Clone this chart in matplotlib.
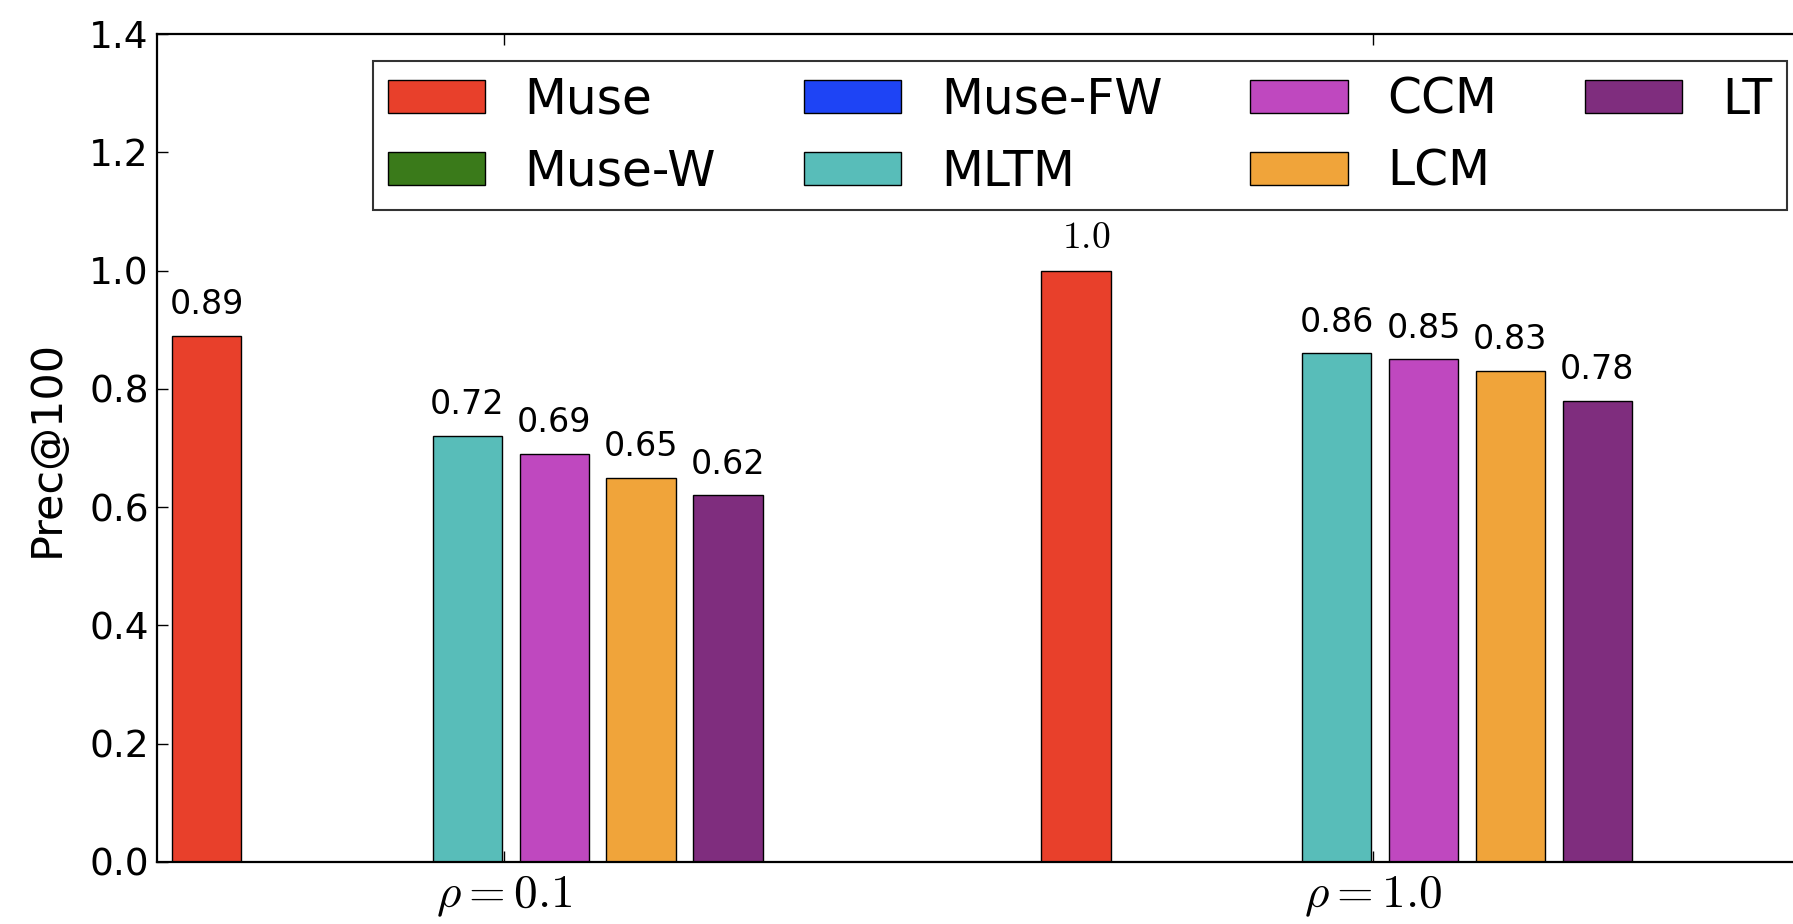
# -*- coding: utf-8 -*-

import numpy as np
import matplotlib
matplotlib.use('Agg')
import matplotlib.pyplot as plt

plt.rcParams['mathtext.fontset'] = 'cm'
plt.rcParams['font.family'] = 'DejaVu Sans'

methods = ['Muse', 'Muse-W', 'Muse-FW', 'MLTM', 'CCM', 'LCM', 'LT']
colors = ['#E8402B', '#3A7A1A', '#1E44F5', '#58BDB9', '#BF48BF', '#F0A43A', '#7F2D7E']
groups = [r'$\rho=0.1$', r'$\rho=1.0$']

muse = [0.89, 1.0]
muse_w = [0.0, 0.0]      # not shown in the chart
muse_fw = [0.0, 0.0]     # not shown in the chart
mltm = [0.72, 0.86]
ccm = [0.69, 0.85]
lcm = [0.65, 0.83]
lt = [0.62, 0.78]

values = [muse, muse_w, muse_fw, mltm, ccm, lcm, lt]
shown = [True, False, False, True, True, True, True]

ind = np.arange(len(groups))
step = 0.1
width = 0.08

fig = plt.figure(figsize=(17.93, 9.24), dpi=100)
ax = fig.add_axes([157 / 1793, 62 / 924, 1654 / 1793, 828 / 924])

handles = []
for i, (name, vals, c) in enumerate(zip(methods, values, colors)):
    xs = ind + i * step
    b = ax.bar(xs, vals, width, align='edge', color=c, edgecolor='black',
               linewidth=1.0, label=name)
    handles.append(b)
    if shown[i]:
        for x, v in zip(xs, vals):
            if v >= 1.0:
                ax.text(x + width * 0.65, v + 0.025, r'$%s$' % v, ha='center',
                        va='bottom', fontsize=27)
            else:
                ax.text(x + width / 2, v + 0.025, str(v), ha='center',
                        va='bottom', fontsize=24)

ax.set_xlim(-0.0171, -0.0171 + 1.903)
ax.set_ylim(0, 1.4)
ax.set_yticks(np.arange(0, 1.41, 0.2))
ax.set_yticklabels(['%.1f' % t for t in np.arange(0, 1.41, 0.2)])
ax.set_xticks(ind + 0.382)
ax.set_xticklabels(groups, fontsize=34)
ax.tick_params(axis='y', labelsize=27, pad=6)
ax.tick_params(axis='x', pad=8)
ax.tick_params(direction='in', top=True, right=True, length=8, width=1)
ax.set_ylabel('Prec@100', fontsize=31, labelpad=15)

for s in ax.spines.values():
    s.set_linewidth(1.6)

leg = ax.legend(handles=handles, ncol=4, mode='expand', loc='upper left',
                bbox_to_anchor=(373 / 1793, 1 - 61 / 924, (1787 - 373) / 1793, 0),
                bbox_transform=fig.transFigure, borderaxespad=0,
                fontsize=35, handlelength=2.0, handleheight=0.66,
                handletextpad=0.82, labelspacing=0.5, borderpad=0.3,
                fancybox=False, frameon=True)
leg.get_frame().set_edgecolor('black')
leg.get_frame().set_linewidth(1.5)

fig.savefig('out.png', dpi=100)
